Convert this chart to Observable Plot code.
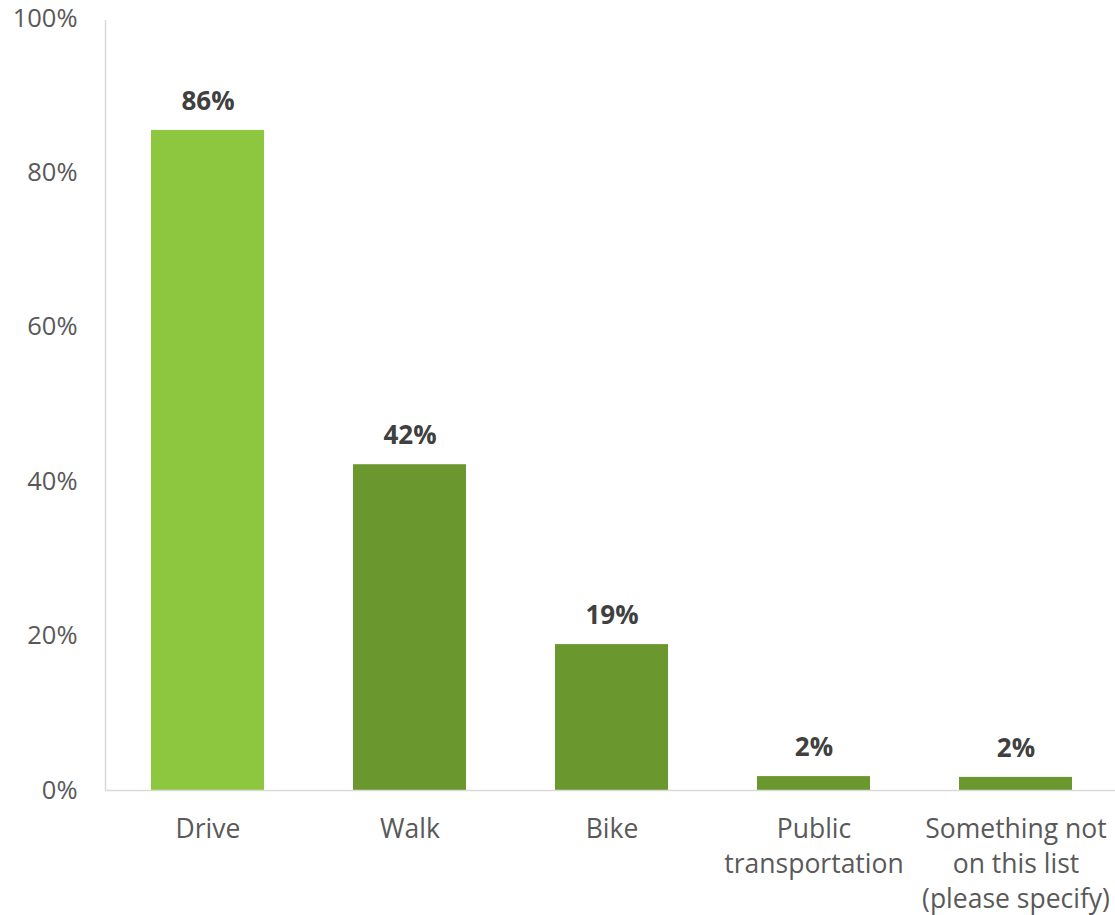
<!DOCTYPE html>
<html>
<head>
<meta charset="utf-8">
<script src="https://cdn.jsdelivr.net/npm/d3@7"></script>
<script src="https://cdn.jsdelivr.net/npm/@observablehq/plot@0.6"></script>
<style>
  body { margin: 0; background: #fff; }
  svg { font-family: "Open Sans", sans-serif; }
</style>
</head>
<body>
<div id="chart"></div>
<script>
const categories = ["Drive", "Walk", "Bike", "Public transportation", "Something not on this list (please specify)"];
const tickLabels = ["Drive", "Walk", "Bike", "Public\ntransportation", "Something not\non this list\n(please specify)"];
const values = [0.855, 0.422, 0.189, 0.018, 0.017];
const valueLabels = ["86%", "42%", "19%", "2%", "2%"];
const barColors = ["#8DC63F", "#6A972E", "#6A972E", "#6A972E", "#6A972E"];
const yTicks = [0, 0.2, 0.4, 0.6, 0.8, 1.0];

const data = categories.map((c, i) => ({
  category: c, value: values[i], label: valueLabels[i], color: barColors[i], tick: tickLabels[i]
}));
const tickMap = new Map(data.map(d => [d.category, d.tick]));

// left axis line drawn from the y scale
function leftAxisLine(index, scales, values, dims) {
  const ns = "http://www.w3.org/2000/svg";
  const line = document.createElementNS(ns, "line");
  line.setAttribute("x1", dims.marginLeft + 0.5);
  line.setAttribute("x2", dims.marginLeft + 0.5);
  line.setAttribute("y1", scales.y(1) + 2);
  line.setAttribute("y2", scales.y(0));
  line.setAttribute("stroke", "#d9d9d9");
  line.setAttribute("stroke-width", 1.5);
  return line;
}

const chart = Plot.plot({
  width: 1115,
  height: 915,
  marginTop: 18,
  marginBottom: 125,
  marginLeft: 105,
  marginRight: 0,
  style: { fontFamily: "Open Sans, sans-serif", background: "#fff" },
  x: { domain: categories, range: [105, 1117.5], paddingInner: 0.44, paddingOuter: 0.22 },
  y: { domain: [0, 1], range: [790, 18] },
  marks: [
    Plot.barY(data, { x: "category", y: "value", fill: "color" }),
    leftAxisLine,
    Plot.ruleY([0], { stroke: "#d9d9d9", strokeWidth: 1.5 }),
    Plot.axisY({ ticks: yTicks, tickFormat: d3.format(".0%"), tickSize: 0, tickPadding: 28, fontSize: 25.5, fill: "#595959", label: null }),
    Plot.axisX({ tickFormat: d => tickMap.get(d), tickSize: 0, tickPadding: 22, fontSize: 26.5, fill: "#595959", lineHeight: 1.33, lineAnchor: "top", label: null }),
    Plot.text(data, { x: "category", y: "value", text: "label", dy: -29, fontSize: 26, fontWeight: "bold", fill: "#404040" })
  ]
});
document.getElementById("chart").appendChild(chart);
</script>
</body>
</html>
